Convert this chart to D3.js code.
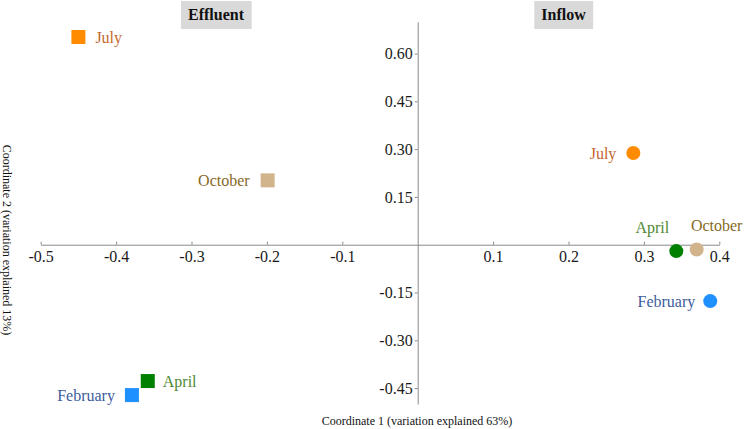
<!DOCTYPE html>
<html>
<head>
<meta charset="utf-8">
<script src="https://cdn.jsdelivr.net/npm/d3@7"></script>
<style>
  body { margin: 0; background: #fff; }
  svg text { font-family: "Liberation Serif", "Times New Roman", "DejaVu Serif", serif; }
</style>
</head>
<body>
<div id="chart"></div>
<script>
// data
const months = ["February", "April", "July", "October"];
const effluentX = [-0.379, -0.358, -0.450, -0.199];
const effluentY = [-0.472, -0.428, 0.652, 0.202];
const inflowX = [0.388, 0.343, 0.286, 0.370];
const inflowY = [-0.177, -0.020, 0.288, -0.015];
const xTicks = [-0.5, -0.4, -0.3, -0.2, -0.1, 0.1, 0.2, 0.3, 0.4];
const yTicks = [0.60, 0.45, 0.30, 0.15, -0.15, -0.30, -0.45];
const facets = ["Effluent", "Inflow"];

const width = 745, height = 429;
const serif = "'Liberation Serif', 'Times New Roman', serif";

const pointColor = { February: "#1e90ff", April: "#008000", July: "#ff8c00", October: "#d2b48c" };
const textColor = { February: "#3d5c9c", April: "#4e8a33", July: "#c4672f", October: "#866a1f" };

// label placement (relative to point) per facet and month
const effluentLabel = {
  February: { dx: -17, dy: 0, anchor: "end" },
  April: { dx: 15, dy: 0, anchor: "start" },
  July: { dx: 17, dy: 0, anchor: "start" },
  October: { dx: -18, dy: 0, anchor: "end" }
};
const inflowLabel = {
  February: { dx: -15, dy: 0, anchor: "end" },
  April: { dx: -24, dy: -24, anchor: "middle" },
  July: { dx: -17, dy: 0, anchor: "end" },
  October: { dx: 20, dy: -24, anchor: "middle" }
};

const svg = d3.select("#chart")
  .append("svg")
    .attr("width", width)
    .attr("height", height);

const xScale = d3.scaleLinear().domain([-0.5, 0.4]).range([40.7, 719.3]);
const yScale = d3.scaleLinear().domain([-0.5, 0.7]).range([404, 21.7]);

// plain hyphen minus, like the original
const fmt = spec => d => d3.format(spec)(d).replace("\u2212", "-");

// axes through the origin
const xAxis = svg.append("g")
    .attr("transform", `translate(0,${yScale(0)})`)
    .call(d3.axisBottom(xScale)
      .tickValues(xTicks)
      .tickFormat(fmt(".1f"))
      .tickSizeInner(-3)
      .tickSizeOuter(0)
      .tickPadding(6));

const yAxis = svg.append("g")
    .attr("transform", `translate(${xScale(0)},0)`)
    .call(d3.axisLeft(yScale)
      .tickValues(yTicks)
      .tickFormat(fmt(".2f"))
      .tickSizeInner(3)
      .tickSizeOuter(0)
      .tickPadding(2));

[xAxis, yAxis].forEach(ax => {
  ax.attr("font-family", serif).attr("font-size", 16);
  ax.select(".domain").attr("stroke", "#8a8a8a");
  ax.selectAll(".tick line").attr("stroke", "#8a8a8a");
  ax.selectAll(".tick text")
    .attr("fill", "#1a1a1a")
    .attr("font-family", serif)
    .attr("font-size", 16);
});

// facet strips
const stripX = { Effluent: 216, Inflow: 563.5 };
facets.forEach(f => {
  const g = svg.append("g");
  const t = g.append("text")
    .attr("x", stripX[f])
    .attr("y", 20)
    .attr("text-anchor", "middle")
    .attr("font-family", serif)
    .attr("font-size", 16)
    .attr("font-weight", "bold")
    .attr("fill", "#111")
    .text(f);
  const bb = t.node().getBBox();
  g.insert("rect", "text")
    .attr("x", bb.x - 7)
    .attr("y", 1)
    .attr("width", bb.width + 14)
    .attr("height", 28)
    .attr("fill", "#d9d9d9");
});

// build point tables
const effluent = months.map((m, i) => ({ month: m, x: effluentX[i], y: effluentY[i] }));
const inflow = months.map((m, i) => ({ month: m, x: inflowX[i], y: inflowY[i] }));

const side = 14;
svg.selectAll(".eff")
  .data(effluent)
  .join("rect")
    .attr("class", "eff")
    .attr("x", d => xScale(d.x) - side / 2)
    .attr("y", d => yScale(d.y) - side / 2)
    .attr("width", side)
    .attr("height", side)
    .attr("fill", d => pointColor[d.month]);

svg.selectAll(".inf")
  .data(inflow)
  .join("circle")
    .attr("class", "inf")
    .attr("cx", d => xScale(d.x))
    .attr("cy", d => yScale(d.y))
    .attr("r", 7)
    .attr("fill", d => pointColor[d.month]);

const addLabels = (data, place, cls) => {
  svg.selectAll(`.${cls}`)
    .data(data)
    .join("text")
      .attr("class", cls)
      .attr("x", d => xScale(d.x) + place[d.month].dx)
      .attr("y", d => yScale(d.y) + place[d.month].dy)
      .attr("dy", "0.35em")
      .attr("text-anchor", d => place[d.month].anchor)
      .attr("fill", d => textColor[d.month])
      .attr("font-family", serif)
      .attr("font-size", 16)
      .text(d => d.month);
};
addLabels(effluent, effluentLabel, "eff-label");
addLabels(inflow, inflowLabel, "inf-label");

// axis titles
svg.append("text")
  .attr("x", 417)
  .attr("y", 425)
  .attr("text-anchor", "middle")
  .attr("font-family", serif)
  .attr("font-size", 12)
  .attr("fill", "#111")
  .text("Coordinate 1 (variation explained 63%)");

svg.append("text")
  .attr("transform", "translate(3,240) rotate(90)")
  .attr("text-anchor", "middle")
  .attr("font-family", serif)
  .attr("font-size", 12)
  .attr("fill", "#111")
  .text("Coordinate 2 (variation explained 13%)");
</script>
</body>
</html>
